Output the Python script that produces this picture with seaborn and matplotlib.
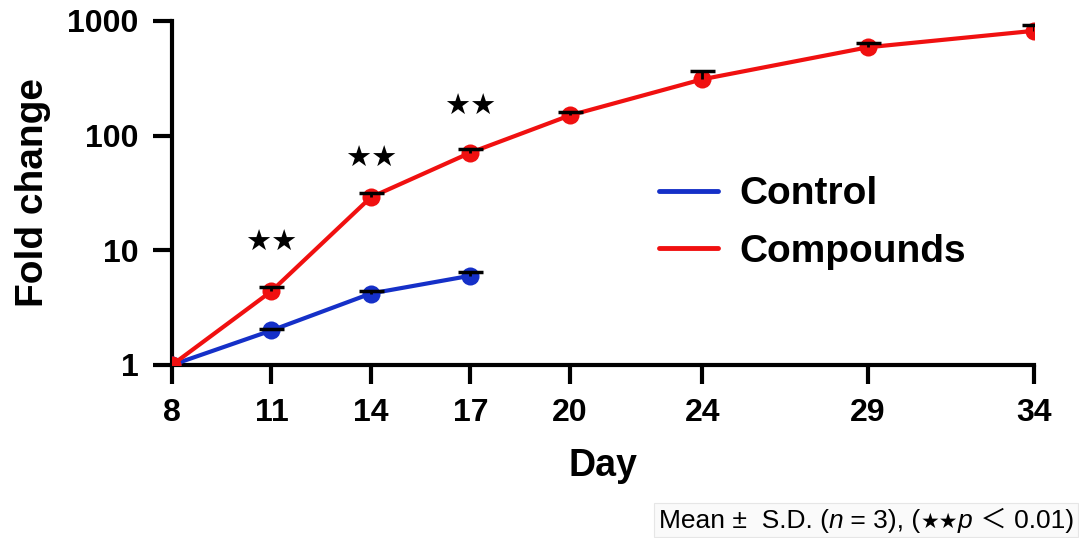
import numpy as np
import pandas as pd
import matplotlib
matplotlib.use("Agg")
import matplotlib.pyplot as plt
import seaborn as sns
from matplotlib.lines import Line2D
from matplotlib.offsetbox import TextArea, HPacker, AnchoredOffsetbox

days_compound = [8, 11, 14, 17, 20, 24, 29, 34]
fold_compound = [1.0, 4.4, 29.0, 71.0, 150.0, 310.0, 590.0, 820.0]
sd_compound = [0.0, 0.4, 2.5, 5.0, 12.0, 55.0, 55.0, 95.0]

days_control = [8, 11, 14, 17]
fold_control = [1.0, 2.0, 4.2, 6.0]
sd_control = [0.0, 0.05, 0.2, 0.45]

star_days = [11, 14, 17]
star_levels = [11.5, 63.0, 180.0]

xticks = [8, 11, 14, 17, 20, 24, 29, 34]
yticks = [1, 10, 100, 1000]

blue = "#1530c8"
red = "#f01010"

sns.set_theme(style="ticks", rc={"text.color": "black", "axes.labelcolor": "black",
                                 "xtick.color": "black", "ytick.color": "black"})
plt.rcParams['font.family'] = ['Liberation Sans', 'DejaVu Sans']

df = pd.concat([
    pd.DataFrame({"Day": days_control, "Fold": fold_control, "Group": "Control"}),
    pd.DataFrame({"Day": days_compound, "Fold": fold_compound, "Group": "Compounds"}),
])

fig = plt.figure(figsize=(10.79, 5.38), dpi=100)
ax = fig.add_axes([0.1594, 0.3216, 0.7986, 0.6394])

sns.lineplot(data=df, x="Day", y="Fold", hue="Group",
             palette={"Control": blue, "Compounds": red},
             linewidth=3.0, marker="o", markersize=13, markeredgewidth=0,
             ax=ax, legend=True, zorder=3)

# upper error bars with caps only
for d, v, s in [(days_compound, fold_compound, sd_compound),
                (days_control, fold_control, sd_control)]:
    d = np.array(d[1:]); v = np.array(v[1:]); s = np.array(s[1:])
    _, caps, _ = ax.errorbar(d, v, yerr=[np.zeros_like(s), s], fmt="none", ecolor="black",
                             elinewidth=2.0, capsize=9, capthick=2.5, zorder=4)
    caps[0].set_visible(False)

for x, y in zip(star_days, star_levels):
    ax.text(x, y, "★★", ha="center", va="center", fontsize=21,
            family="DejaVu Sans", color="black")

ax.set_yscale("log")
ax.set_xlim(8, 34)
ax.set_ylim(1, 1000)
ax.set_xticks(xticks)
ax.set_xticklabels([str(t) for t in xticks])
ax.set_yticks(yticks)
ax.set_yticklabels([str(t) for t in yticks])
ax.minorticks_off()

for lab in ax.get_xticklabels() + ax.get_yticklabels():
    lab.set_fontweight("bold")
    lab.set_fontsize(23)
ax.tick_params(axis="both", length=14, width=3, color="black", pad=10)

ax.set_xlabel("Day", fontsize=27, fontweight="bold", labelpad=14)
ax.set_ylabel("Fold change", fontsize=28, fontweight="bold", labelpad=12)

sns.despine(ax=ax)
for sp in ["left", "bottom"]:
    ax.spines[sp].set_linewidth(3)
    ax.spines[sp].set_color("black")

new_handles = [Line2D([0], [0], color=blue, lw=3.5), Line2D([0], [0], color=red, lw=3.5)]
leg = ax.legend(new_handles, ["Control", "Compounds"], loc="upper left",
                bbox_to_anchor=(0.525, 0.65), frameon=False,
                prop={"weight": "bold", "size": 28}, handlelength=1.5,
                handletextpad=0.55, labelspacing=0.55)

fam = ['Liberation Sans Narrow', 'Liberation Sans', 'Noto Sans CJK JP']
fs = 19
parts = [("Mean ±  S.D. (", "normal"), ("n", "italic"), (" = 3), (", "normal"),
         ("★★", "star"), ("p", "italic"), (" ＜ 0.01)", "normal")]
areas = []
for t, st in parts:
    if st == "star":
        props = dict(fontsize=fs - 4, family="DejaVu Sans", color="black")
    else:
        props = dict(fontsize=fs, family=fam, style=st, color="black")
    areas.append(TextArea(t, textprops=props))
pack = HPacker(children=areas, align="baseline", pad=0, sep=0)
box = AnchoredOffsetbox(loc="lower right", child=pack, pad=0.3, borderpad=0.05,
                        frameon=True, bbox_to_anchor=(1.0, 0.0),
                        bbox_transform=fig.transFigure)
box.patch.set_facecolor("#fafafa")
box.patch.set_edgecolor("#e6e6e6")
box.patch.set_linewidth(0.8)
fig.add_artist(box)

fig.savefig("out.png", dpi=100)
